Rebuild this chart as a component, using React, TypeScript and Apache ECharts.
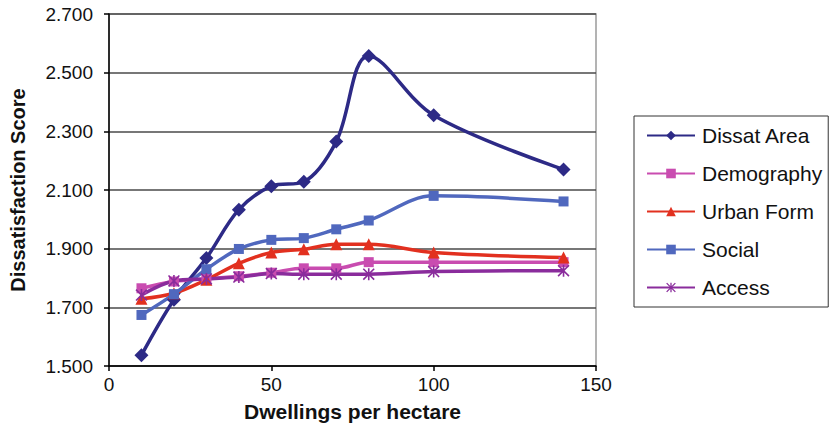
import React, { useEffect, useRef } from "react";
import * as echarts from "echarts";

const xValues = [10, 20, 30, 40, 50, 60, 70, 80, 100, 140];
const seriesNames = ["Dissat Area", "Demography", "Urban Form", "Social", "Access"];
const dissatArea = [1.537, 1.726, 1.868, 2.033, 2.113, 2.128, 2.265, 2.557, 2.355, 2.17];
const demography = [1.765, 1.788, 1.797, 1.806, 1.818, 1.833, 1.833, 1.854, 1.854, 1.854];
const urbanForm = [1.729, 1.748, 1.794, 1.85, 1.887, 1.898, 1.915, 1.915, 1.887, 1.87];
const social = [1.674, 1.745, 1.83, 1.899, 1.93, 1.936, 1.966, 1.996, 2.08, 2.061];
const access = [1.742, 1.79, 1.797, 1.803, 1.815, 1.813, 1.813, 1.813, 1.822, 1.825];
const yTicks = { min: 1.5, max: 2.7, step: 0.2 };
const xTicks = { min: 0, max: 150, step: 50 };

const colors = ["#2D2A86", "#C94CB0", "#E2301F", "#5068BE", "#8A2C9C"];
const FONT = "'Liberation Sans', Arial, sans-serif";
const ASTERISK =
  "path://M5.2,0 L6.8,0 L6.8,12 L5.2,12 Z M0,1.13 L1.13,0 L12,10.87 L10.87,12 Z M10.87,0 L12,1.13 L1.13,12 L0,10.87 Z";

export default function App() {
  const ref = useRef<HTMLDivElement>(null);
  useEffect(() => {
    if (!ref.current) return;
    const chart = echarts.init(ref.current, null, { renderer: "svg" });
    const values = [dissatArea, demography, urbanForm, social, access];
    const symbols = ["diamond", "rect", "triangle", "rect", ASTERISK];
    const sizes = [14, 10, 12, 10, 12];
    chart.setOption({
      animation: false,
      backgroundColor: "#ffffff",
      textStyle: { fontFamily: FONT },
      grid: {
        left: 109,
        top: 14,
        right: 233,
        bottom: 63,
        show: true,
        borderColor: "#9a9a9a",
        borderWidth: 1.5,
        backgroundColor: "transparent",
      },
      legend: {
        orient: "vertical",
        left: 634,
        top: 116,
        padding: [9, 6, 9, 12],
        borderColor: "#333",
        borderWidth: 1,
        itemWidth: 48,
        itemHeight: 12,
        itemGap: 17,
        data: seriesNames,
        textStyle: { fontFamily: FONT, fontSize: 21, lineHeight: 21, color: "#111", padding: [0, 0, 0, 2] },
      },
      xAxis: {
        type: "value",
        min: xTicks.min,
        max: xTicks.max,
        interval: xTicks.step,
        name: "Dwellings per hectare",
        nameLocation: "middle",
        nameGap: 35,
        nameTextStyle: { fontFamily: FONT, fontSize: 21, fontWeight: "bold", color: "#111", verticalAlign: "top" },
        axisLine: { lineStyle: { color: "#000", width: 1.5 } },
        axisTick: { show: true, length: 5, lineStyle: { color: "#000", width: 1.5 } },
        axisLabel: { fontFamily: FONT, fontSize: 19, color: "#111", margin: 9 },
        splitLine: { show: false },
      },
      yAxis: {
        type: "value",
        min: yTicks.min,
        max: yTicks.max,
        interval: yTicks.step,
        name: "Dissatisfaction Score",
        nameLocation: "middle",
        nameRotate: 90,
        nameGap: 81,
        nameTextStyle: { fontFamily: FONT, fontSize: 20, fontWeight: "bold", color: "#111" },
        axisLine: { show: true, lineStyle: { color: "#000", width: 1.5 } },
        axisTick: { show: true, length: 5, lineStyle: { color: "#000", width: 1.5 } },
        axisLabel: {
          fontFamily: FONT,
          fontSize: 19,
          color: "#111",
          margin: 16,
          formatter: (v: number) => v.toFixed(3),
        },
        splitLine: { show: true, lineStyle: { color: "#4a4a4a", width: 1.5 } },
      },
      series: seriesNames.map((name, i) => ({
        name,
        type: "line",
        smooth: 0.35,
        data: xValues.map((x, j) => [x, values[i][j]]),
        symbol: symbols[i],
        symbolSize: sizes[i],
        showAllSymbol: true,
        lineStyle: { color: colors[i], width: 3.5 },
        itemStyle: { color: colors[i], borderWidth: 0 },
        emphasis: { disabled: true },
      })),
    });
    return () => chart.dispose();
  }, []);
  return (
    <div
      ref={ref}
      style={{ position: "fixed", left: 0, top: 0, width: 829, height: 429, background: "#fff" }}
    />
  );
}
